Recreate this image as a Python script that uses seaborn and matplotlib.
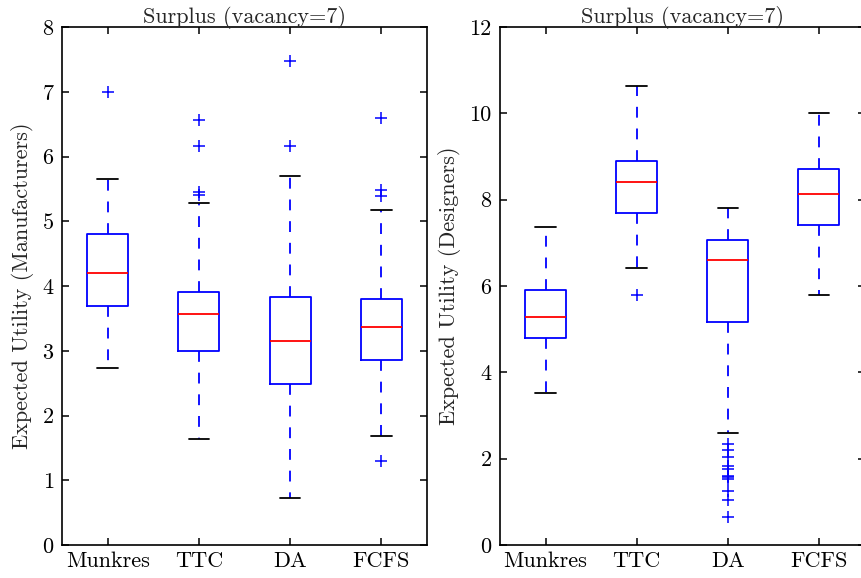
import numpy as np
import pandas as pd
import matplotlib
matplotlib.use("Agg")
import matplotlib.pyplot as plt
import seaborn as sns

# ---- data ----
methods = ["Munkres", "TTC", "DA", "FCFS"]

# Manufacturers: lower whisker, Q1, median, Q3, upper whisker
man_low = [2.74, 1.63, 0.72, 1.69]
man_q1 = [3.69, 2.99, 2.49, 2.85]
man_med = [4.20, 3.56, 3.15, 3.37]
man_q3 = [4.81, 3.91, 3.83, 3.80]
man_high = [5.66, 5.28, 5.70, 5.18]
man_flier_method = ["Munkres", "TTC", "TTC", "TTC", "TTC", "DA", "DA", "FCFS", "FCFS", "FCFS", "FCFS"]
man_flier_value = [6.99, 6.57, 6.16, 5.45, 5.41, 7.48, 6.16, 6.60, 5.49, 5.39, 1.30]

# Designers
des_low = [3.51, 6.42, 2.59, 5.78]
des_q1 = [4.80, 7.68, 5.17, 7.41]
des_med = [5.29, 8.40, 6.60, 8.13]
des_q3 = [5.91, 8.90, 7.06, 8.72]
des_high = [7.37, 10.63, 7.81, 10.00]
des_flier_method = ["TTC"] + ["DA"] * 11
des_flier_value = [5.78, 2.34, 2.20, 2.05, 1.83, 1.77, 1.61, 1.57, 1.52, 1.26, 1.04, 0.64]

title = "Surplus (vacancy=7)"
ylabel_left = "Expected Utility (Manufacturers)"
ylabel_right = "Expected Utility (Designers)"
yticks_left = [0, 1, 2, 3, 4, 5, 6, 7, 8]
yticks_right = [0, 2, 4, 6, 8, 10, 12]


def long_frame(low, q1, med, q3, high):
    rows = []
    for i, m in enumerate(methods):
        for v in (low[i], q1[i], med[i], q3[i], high[i]):
            rows.append({"method": m, "value": v})
    return pd.DataFrame(rows)


sns.set_style("ticks")
plt.rcParams["font.family"] = ["cmr10", "DejaVu Serif"]
plt.rcParams["axes.formatter.use_mathtext"] = True
plt.rcParams["axes.linewidth"] = 1.2
plt.rcParams["axes.edgecolor"] = "black"

W, H = 862, 578
fig = plt.figure(figsize=(W / 100, H / 100), dpi=100)
ax1 = fig.add_axes([62 / W, (H - 545) / H, 365 / W, 518 / H])
ax2 = fig.add_axes([500 / W, (H - 545) / H, 364.5 / W, 518 / H])

lw = 1.3
box_kw = dict(
    order=methods, width=0.45, whis=(0, 100), fill=False, color="blue",
    boxprops=dict(color="blue", linewidth=lw),
    whiskerprops=dict(color="blue", linewidth=lw, linestyle=(0, (6, 6))),
    capprops=dict(color="black", linewidth=lw),
    medianprops=dict(color="red", linewidth=lw),
    showfliers=False,
)

panels = [
    (ax1, long_frame(man_low, man_q1, man_med, man_q3, man_high),
     man_flier_method, man_flier_value, ylabel_left, yticks_left),
    (ax2, long_frame(des_low, des_q1, des_med, des_q3, des_high),
     des_flier_method, des_flier_value, ylabel_right, yticks_right),
]

fs = 16
for ax, df, fm, fv, ylab, yt in panels:
    sns.boxplot(data=df, x="method", y="value", ax=ax, **box_kw)
    fl = pd.DataFrame({"method": fm, "value": fv})
    sns.stripplot(data=fl, x="method", y="value", order=methods, ax=ax,
                  jitter=False, marker="+", color="blue",
                  linewidth=1.1, size=8)
    ax.set_xlim(-0.5, 3.5)
    ax.set_ylim(yt[0], yt[-1])
    ax.set_yticks(yt)
    ax.set_yticklabels([str(t) for t in yt])
    ax.set_xlabel("")
    ax.set_ylabel(ylab, fontsize=fs, labelpad=6)
    ax.set_title(title, fontsize=fs, pad=3)
    ax.tick_params(axis="both", direction="in", top=True, right=True,
                   length=5, width=1.1, labelsize=fs, colors="black")
    ax.tick_params(axis="x", pad=5)
    ax.tick_params(axis="y", pad=6)
    for s in ax.spines.values():
        s.set_visible(True)
        s.set_color("black")
        s.set_linewidth(1.2)

fig.savefig("out.png", dpi=100)
